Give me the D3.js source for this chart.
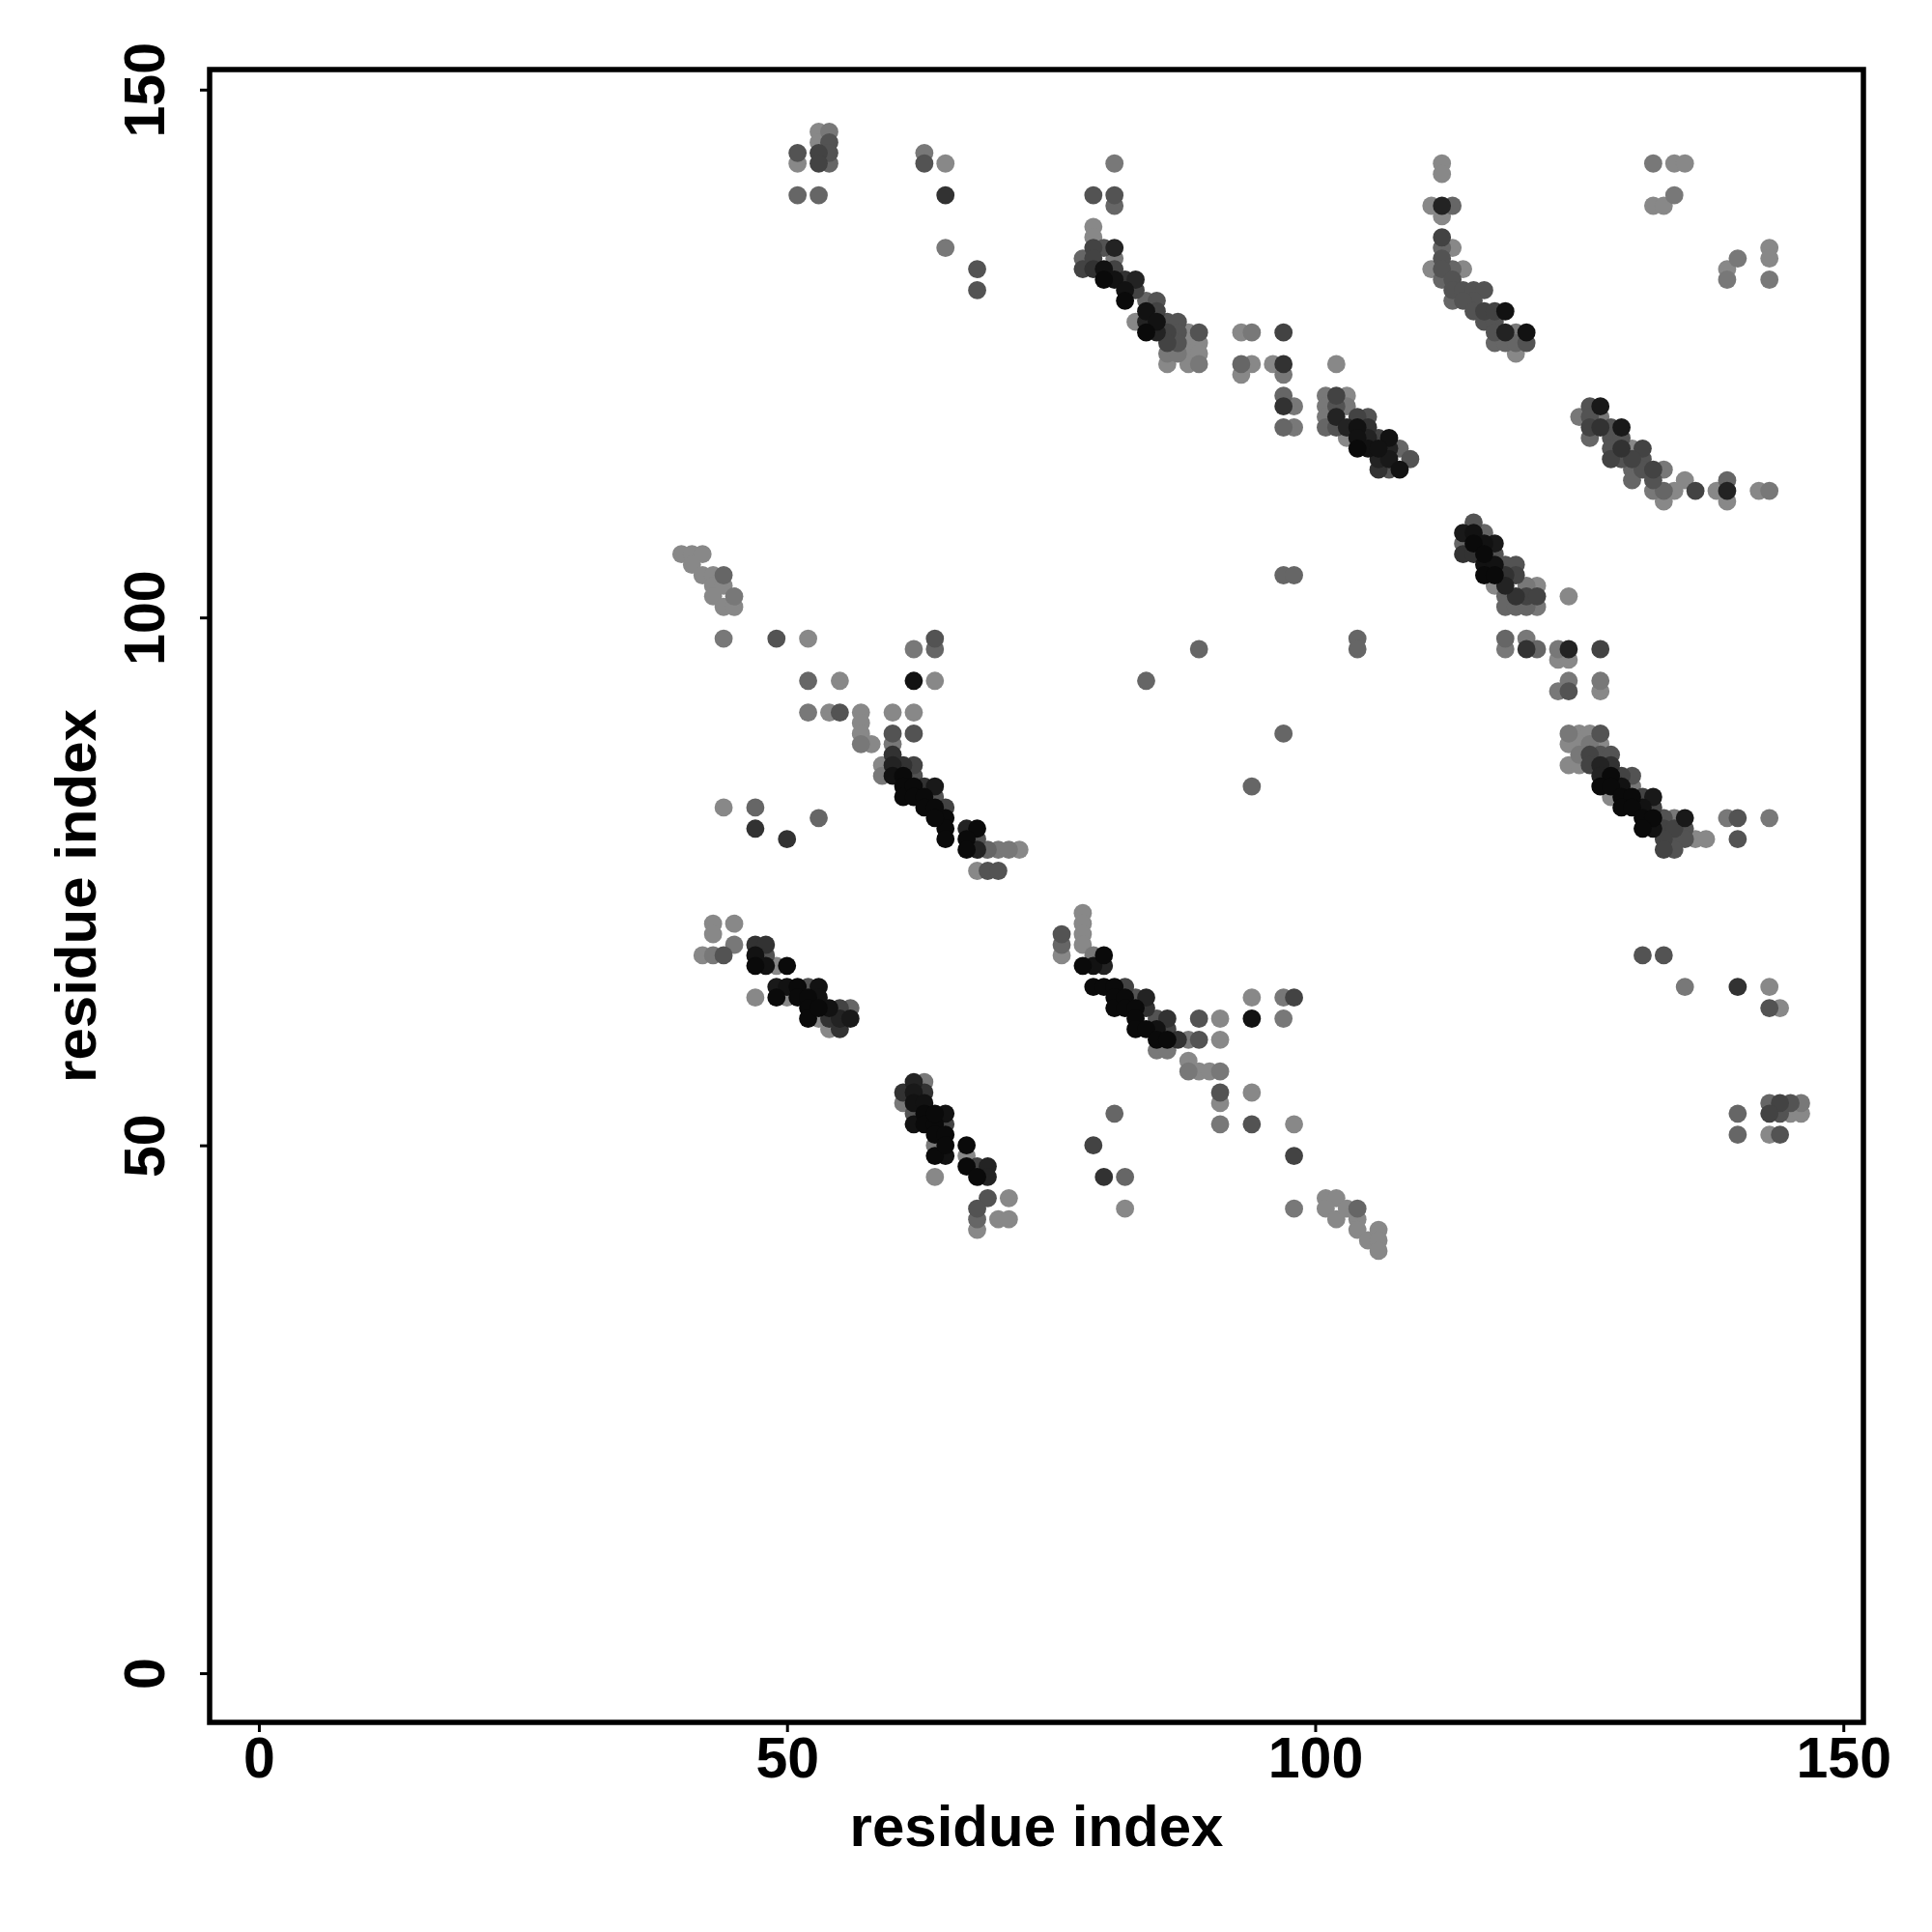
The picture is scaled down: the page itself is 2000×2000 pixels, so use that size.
<!DOCTYPE html>
<html>
<head>
<meta charset="utf-8">
<script src="https://cdn.jsdelivr.net/npm/d3@7"></script>
<style>
  html, body { margin: 0; padding: 0; background: #ffffff; }
  svg { display: block; }
  text { font-family: "Liberation Sans", Arial, Helvetica, sans-serif; font-weight: bold; fill: #000; }
</style>
</head>
<body>
<script>
// ---- data (residue i, residue j, contact score 0..1) ----
const residueI = [
  51,51,51,53,53,54,53,54,53,54,53,54,63,63,65,65,65,68,68,
  81,79,81,81,79,79,78,78,79,79,79,80,81,81,80,80,81,81,82,83,82,82,83,84,85,83,84,84,84,85,85,85,86,87,86,86,86,86,87,87,87,88,89,88,89,88,89,88,89,
  93,94,97,93,94,93,96,97,97,102,97,97,98,97,98,
  101,101,101,101,102,103,102,102,102,103,103,103,104,105,104,104,104,105,105,106,107,105,106,107,108,106,107,109,106,107,108,
  112,112,111,112,113,112,112,112,113,111,112,112,113,114,112,113,113,114,115,116,115,113,114,116,115,116,117,117,118,117,118,119,120,117,118,119,120,119,
  132,134,135,132,133,134,139,139,140,143,143,143,
  126,127,125,126,126,126,127,127,128,129,128,129,128,128,129,130,131,129,130,131,130,131,130,132,133,132,132,133,134,135,136,138,139,139,142,143,133,139,
  40,41,42,41,42,43,44,43,43,44,45,44,45,
  44,49,52,64,62,64,52,55,62,64,52,54,55,57,60,62,57,57,58,57,60,62,60,
  59,59,60,60,60,61,62,61,61,61,62,62,62,63,64,63,63,64,65,64,65,65,65,64,67,68,67,67,68,68,69,70,71,72,68,69,70,
  44,47,47,50,53,
  97,98,104,104,89,84,97,94,
  115,114,115,116,117,114,114,115,115,116,116,117,116,117,116,117,118,119,118,119,117,118,120,121,118,119,120,121,118,119,120,121,124,
  118,118,120,120,121,123,124,127,123,124,124,123,124,127,127,
  124,125,126,127,124,125,126,127,124,125,125,126,127,128,126,127,128,127,128,129,130,127,128,129,130,128,129,130,131,132,129,130,131,132,131,132,133,134,135,131,132,133,134,135,133,134,135,136,137,133,134,
  139,140,143,140,
  43,43,45,42,43,44,45,47,48,47,48,47,48,49,50,47,
  49,50,51,52,53,49,50,51,52,53,52,52,53,54,53,54,55,56,55,56,54,55,
  62,63,61,62,63,61,62,63,62,62,63,63,64,65,65,64,64,65,64,64,65,65,64,67,67,67,68,69,68,69,69,71,68,68,68,70,71,
  78,78,78,78,76,76,76,79,80,78,79,80,79,80,81,82,81,81,83,84,82,82,83,84,83,83,85,86,84,85,86,85,86,87,88,89,91,89,91,85,86,
  88,88,89,90,91,94,94,97,98,97,91,91,94,91,94,98,98,81,79,80,82,82,98,
  101,102,101,102,103,104,104,104,105,106,106,106,
  131,133,135,140,143,143,144,143,144,145,146,143,144,145,146,140,140,143,144
];
const residueJ = [
  144,143,140,140,146,146,145,145,144,144,143,143,144,143,143,140,135,133,131,
  143,140,140,139,137,136,134,133,135,134,133,135,135,134,133,132,133,132,132,132,131,130,131,130,130,128,129,128,127,129,128,127,128,128,127,126,125,124,127,126,125,127,127,126,126,125,125,124,124,
  127,127,127,124,124,123,124,124,123,124,121,120,120,118,118,
  121,120,119,118,121,121,120,119,118,120,118,117,119,119,118,117,116,118,117,117,117,116,116,116,116,115,115,115,114,114,114,
  143,142,139,139,139,138,136,135,135,133,134,133,133,133,132,132,131,131,131,131,130,130,130,129,129,128,129,128,129,127,127,127,127,126,126,126,126,125,
  143,143,143,139,139,140,133,132,134,135,134,132,
  120,120,119,119,118,117,119,118,118,118,117,117,116,115,116,116,116,115,115,115,114,114,113,114,114,113,112,112,112,113,112,112,113,112,112,112,111,111,
  106,106,106,105,104,104,104,103,102,103,102,101,101,
  98,98,98,98,97,97,94,94,94,94,91,91,91,91,91,91,90,89,88,88,89,89,88,
  86,85,87,86,85,86,86,85,84,83,85,84,83,84,84,83,82,83,82,82,81,80,79,81,80,80,79,78,79,78,78,78,78,78,76,76,76,
  82,82,80,79,81,
  104,104,98,97,97,94,89,84,
  109,108,108,108,107,107,106,107,106,106,107,106,105,105,104,104,105,105,104,104,103,103,103,103,102,102,102,102,101,101,101,101,102,
  98,97,98,97,97,97,97,97,96,96,94,93,93,94,93,
  89,89,89,89,88,88,88,88,86,86,87,87,87,87,86,86,86,85,85,85,85,84,84,84,84,83,83,83,83,83,82,82,82,82,81,81,81,81,81,80,80,80,80,80,79,79,79,79,79,78,78,
  81,81,81,79,
  71,70,71,68,68,68,69,69,69,68,68,67,67,67,67,64,
  65,65,65,65,65,64,64,64,64,64,63,62,63,63,62,62,63,63,62,62,61,61,
  56,56,55,55,55,54,54,54,53,52,53,52,52,53,52,53,51,51,50,49,50,49,47,50,49,48,48,48,47,47,45,45,44,43,42,43,43,
  72,71,70,69,70,69,68,68,68,67,67,67,65,65,65,65,64,63,64,64,64,63,63,63,62,61,62,62,61,61,61,60,60,60,60,60,60,62,62,59,59,
  58,57,57,57,57,64,62,64,64,62,55,54,55,52,52,52,49,53,50,47,47,44,44,
  45,45,44,43,44,44,43,42,41,42,41,40,
  68,68,65,65,65,63,63,54,54,54,54,53,53,53,53,53,51,51,51
];
// darkness codes: 8 = lightest grey ... 0 = black, 'A' = near-black
const shadeCode = [
  5,8,6,6,8,7,8,5,4,5,4,6,7,5,8,3,7,5,5,
  7,5,5,6,8,8,6,4,4,4,3,5,2,7,1,0,4,1,3,2,1,0,4,6,5,8,1,2,0,4,1,2,5,5,4,4,7,8,5,5,7,8,5,8,8,8,8,8,7,
  8,7,4,6,8,8,8,3,7,8,6,3,7,6,7,
  7,7,7,6,4,8,5,2,5,7,2,8,4,5,1,1,0,3,2,4,1,1,1,2,6,2,"A",5,3,5,1,
  8,8,8,2,6,8,4,6,8,8,5,5,6,8,6,5,5,5,5,5,5,6,5,4,5,5,4,5,1,5,2,7,1,6,6,6,5,8,
  7,8,8,8,8,7,8,7,7,8,8,7,
  5,"A",7,5,4,6,7,3,5,"A",5,5,5,4,3,8,4,5,4,5,6,5,6,4,7,5,7,6,8,8,4,8,6,2,8,7,8,8,
  8,8,8,8,8,8,6,8,8,8,7,8,8,
  7,5,8,5,7,6,6,8,1,8,7,8,5,8,8,8,8,8,8,7,5,5,7,
  8,7,3,2,1,3,4,0,0,0,5,0,0,3,"A",0,0,5,4,0,0,0,0,0,2,0,0,0,5,2,6,7,7,8,8,5,5,
  8,6,3,3,6,
  6,6,6,6,6,6,6,6,
  5,"A",1,6,"A",6,3,0,3,0,1,5,1,1,0,0,5,5,3,4,8,2,7,8,6,3,4,4,6,6,6,7,8,
  6,7,7,3,6,7,2,4,8,8,7,7,5,7,8,
  7,8,8,5,8,8,7,8,8,8,7,4,5,5,4,2,3,2,0,4,5,0,0,1,7,8,0,0,4,"A",0,0,1,4,0,0,5,7,"A",0,1,4,4,5,4,5,5,8,8,4,5,
  7,5,7,5,
  8,8,8,8,7,5,7,3,3,1,5,0,1,8,0,8,
  "A",1,0,5,1,0,8,0,0,1,0,0,0,1,8,3,4,6,2,"A",8,3,
  2,7,3,"A",3,7,1,1,5,1,0,0,0,1,4,0,0,0,7,0,0,1,8,0,8,0,4,2,0,2,5,8,5,6,8,8,8,
  8,8,8,8,5,6,8,7,0,0,1,2,0,0,0,4,0,0,5,2,0,0,0,3,0,0,5,3,0,1,4,0,0,3,7,5,8,5,8,7,7,
  8,7,8,8,7,8,1,7,4,7,5,8,8,7,5,8,4,6,4,3,6,8,7,
  8,8,8,8,8,6,8,8,8,8,8,8,
  5,5,7,3,8,5,8,6,4,5,7,4,5,8,8,6,6,8,5
];
const codeToScore = { 8: 0, 7: 0.13, 6: 0.27, 5: 0.42, 4: 0.55, 3: 0.68, 2: 0.8, A: 0.88, 1: 0.94, 0: 1 };
const contactScore = shadeCode.map(c => codeToScore[c]);

const xTicks = [0, 50, 100, 150];
const yTicks = [0, 50, 100, 150];
const xLabel = "residue index";
const yLabel = "residue index";

// ---- layout ----
const W = 2000, H = 2000;
const frame = { left: 217, right: 1929, top: 72, bottom: 1783 };
const domain = [-4.66, 151.9];

const svg = d3.select("body").append("svg").attr("width", W).attr("height", H);
svg.append("rect").attr("width", W).attr("height", H).attr("fill", "#ffffff");

const x = d3.scaleLinear().domain(domain).range([frame.left, frame.right]);
const y = d3.scaleLinear().domain(domain).range([frame.bottom, frame.top]);
const grey = d3.scaleLinear().domain([0, 1]).range(["#888888", "#0a0a0a"]);

const pts = residueI.map((v, k) => ({ i: v, j: residueJ[k], s: contactScore[k] }))
  .sort((a, b) => a.s - b.s);

svg.append("g").selectAll("circle").data(pts).join("circle")
  .attr("cx", d => x(d.i))
  .attr("cy", d => y(d.j))
  .attr("r", 9.4)
  .attr("fill", d => grey(d.s));

// frame
svg.append("rect")
  .attr("x", frame.left).attr("y", frame.top)
  .attr("width", frame.right - frame.left).attr("height", frame.bottom - frame.top)
  .attr("fill", "none").attr("stroke", "#000").attr("stroke-width", 5.5);

// x axis
const xAxis = d3.axisBottom(x).tickValues(xTicks).tickSize(10).tickPadding(14).tickFormat(d3.format("d"));
const gx = svg.append("g").attr("transform", `translate(0,${frame.bottom})`).call(xAxis);
gx.select(".domain").remove();
gx.selectAll(".tick line").attr("stroke", "#000").attr("stroke-width", 3);
gx.selectAll(".tick text").attr("font-size", 59).attr("font-family", null).attr("dy", null)
  .attr("y", 57);

// y axis
const yAxis = d3.axisLeft(y).tickValues(yTicks).tickSize(10).tickFormat(d3.format("d"));
const gy = svg.append("g").attr("transform", `translate(${frame.left},0)`).call(yAxis);
gy.select(".domain").remove();
gy.selectAll(".tick line").attr("stroke", "#000").attr("stroke-width", 3);
gy.selectAll(".tick text").attr("font-size", 59).attr("font-family", null)
  .attr("x", null).attr("dy", null)
  .attr("text-anchor", "middle")
  .attr("transform", "translate(-47,0) rotate(-90)");

svg.selectAll("text").style("font-family", "'Liberation Sans', Arial, Helvetica, sans-serif").style("font-weight", "bold");

// titles
svg.append("text").attr("x", (frame.left + frame.right) / 2).attr("y", 1911)
  .attr("text-anchor", "middle").attr("font-size", 60).text(xLabel);
svg.append("text")
  .attr("transform", `translate(99,${(frame.top + frame.bottom) / 2}) rotate(-90)`)
  .attr("text-anchor", "middle").attr("font-size", 60).text(yLabel);
</script>
</body>
</html>
